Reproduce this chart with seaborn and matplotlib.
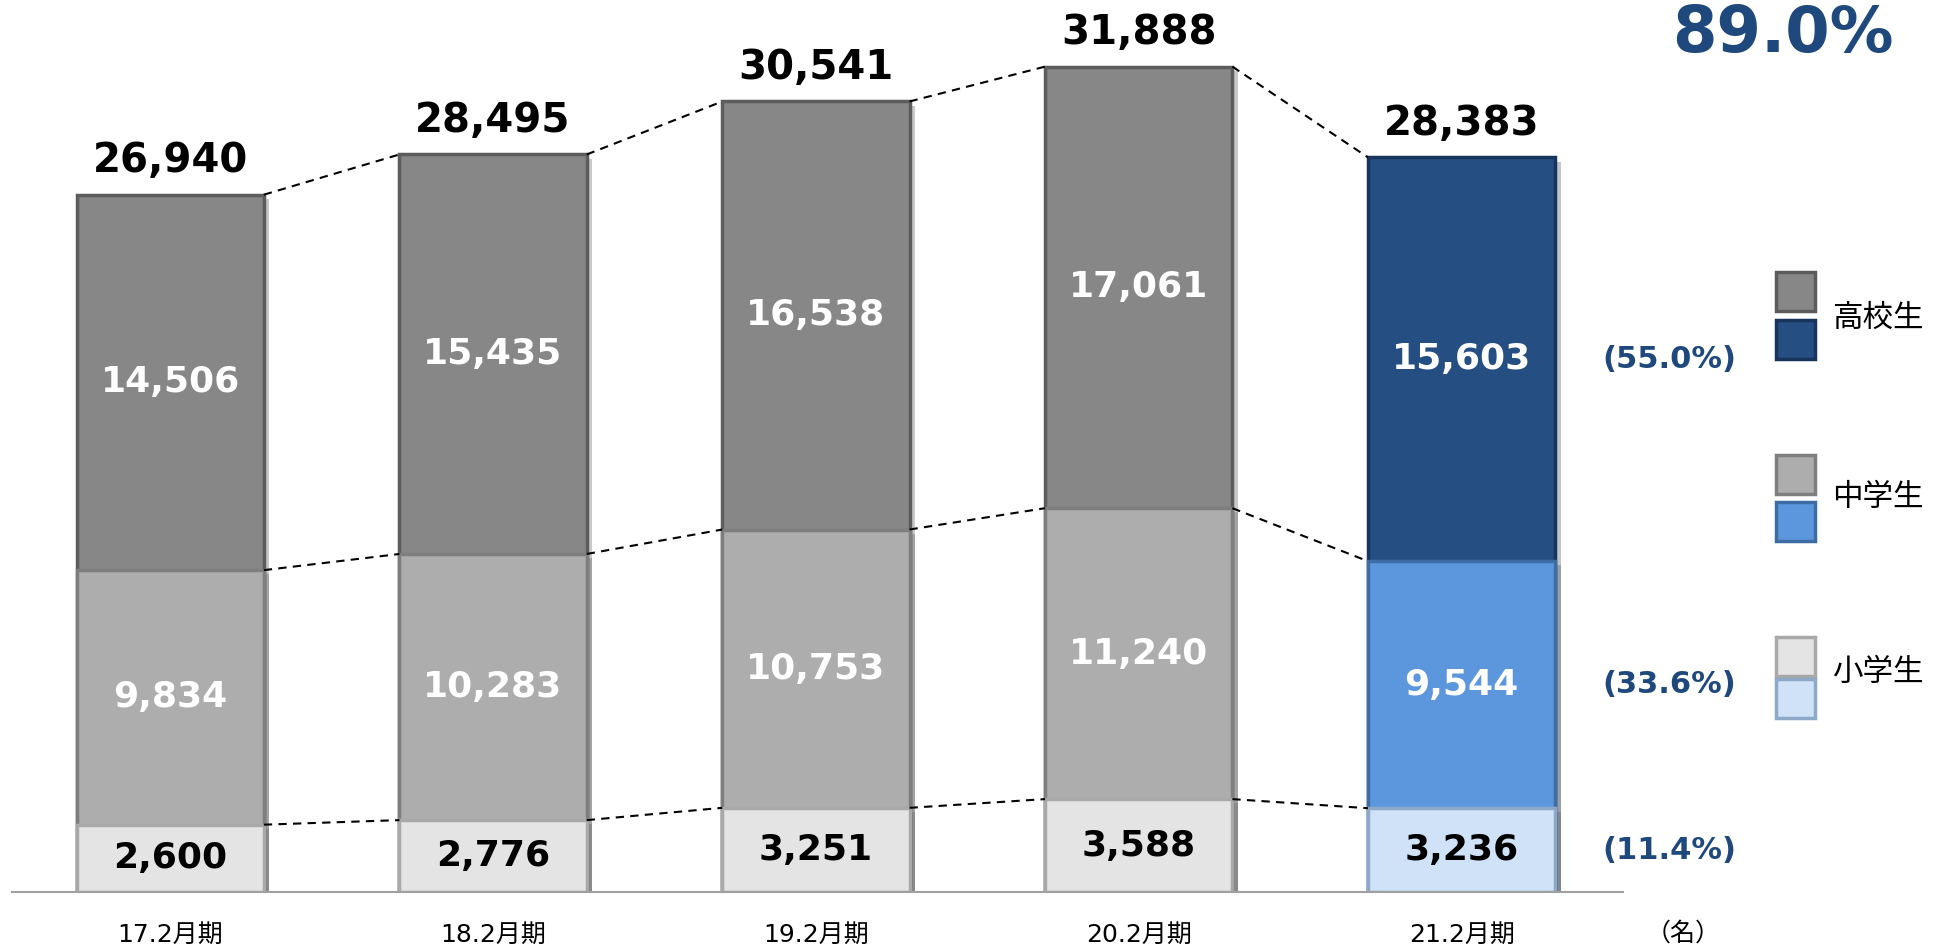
import pandas as pd
import seaborn as sns
import matplotlib.pyplot as plt
import matplotlib.patheffects as pe
from matplotlib.patches import Rectangle

# Data (students, 名)
periods = ["17.2月期", "18.2月期", "19.2月期", "20.2月期", "21.2月期"]
elementary = [2600, 2776, 3251, 3588, 3236]
junior_high = [9834, 10283, 10753, 11240, 9544]
high_school = [14506, 15435, 16538, 17061, 15603]
totals = [26940, 28495, 30541, 31888, 28383]
share_labels = ["(55.0%)", "(33.6%)", "(11.4%)"]   # high / junior / elementary, latest year
yoy_label = "89.0%"
legend_names = ["高校生", "中学生", "小学生"]

sns.set_theme(style="white")
plt.rcParams['font.family'] = ['DejaVu Sans', 'Noto Sans CJK JP']
plt.rcParams['text.color'] = 'black'
plt.rcParams['xtick.color'] = 'black'

# colours: grey for past years, blue for the latest year
grey = {"hs": "#878787", "ms": "#ADADAD", "es": "#E4E4E4"}
blue = {"hs": "#254F83", "ms": "#5C97DE", "es": "#CFE2F8"}
grey_edge = {"hs": "#5C5C5C", "ms": "#7E7E7E", "es": "#A9A9A9"}
blue_edge = {"hs": "#17345A", "ms": "#3E6DA6", "es": "#8EA8C7"}
navy_text = "#1F497D"

df = pd.DataFrame({"period": periods, "es": elementary, "ms": junior_high, "hs": high_school})
df["top_hs"] = df["es"] + df["ms"] + df["hs"]
df["top_ms"] = df["es"] + df["ms"]
df["top_es"] = df["es"]

fig = plt.figure(figsize=(19.5, 9.48), dpi=100)
ax = fig.add_axes([12 / 1950, 0.0591, 1611 / 1950, 880 / 948])

bar_w = 0.58
for key in ["hs", "ms", "es"]:
    cols = [grey[key]] * (len(periods) - 1) + [blue[key]]
    edges = [grey_edge[key]] * (len(periods) - 1) + [blue_edge[key]]
    n0 = len(ax.patches)
    sns.barplot(data=df, x="period", y="top_" + key, hue="period", palette=cols,
                width=bar_w, legend=False, ax=ax, saturation=1)
    for p, ec in zip(ax.patches[n0:], edges):
        p.set_edgecolor(ec)
        p.set_linewidth(2.5)
        p.set_path_effects([pe.SimplePatchShadow(offset=(4, -3), alpha=0.25), pe.Normal()])

# dashed connectors between segment tops
for key in ["top_hs", "top_ms", "top_es"]:
    vals = df[key].tolist()
    for i in range(len(vals) - 1):
        ax.plot([i + bar_w / 2, i + 1 - bar_w / 2], [vals[i], vals[i + 1]],
                color="black", linestyle=(0, (4, 3)), linewidth=1.5, zorder=1)

# value labels
for i in range(len(periods)):
    es, ms, hs = elementary[i], junior_high[i], high_school[i]
    ax.text(i, es / 2, f"{es:,}", ha="center", va="center", fontsize=26,
            fontweight="bold", color="black")
    ax.text(i, es + ms / 2, f"{ms:,}", ha="center", va="center", fontsize=26,
            fontweight="bold", color="white")
    ax.text(i, es + ms + hs / 2, f"{hs:,}", ha="center", va="center", fontsize=26,
            fontweight="bold", color="white")
    ax.annotate(f"{totals[i]:,}", (i, totals[i]), xytext=(0, 24), textcoords="offset points",
                ha="center", va="center", fontsize=29, fontweight="bold", color="black")

# share of latest year
last = len(periods) - 1
mids = [elementary[last] + junior_high[last] + high_school[last] / 2,
        elementary[last] + junior_high[last] / 2,
        elementary[last] / 2]
for lab, y in zip(share_labels, mids):
    ax.text(4.643, y, lab, ha="center", va="center", fontsize=22,
            fontweight="bold", color=navy_text)

fig.text(1783 / 1950, 1 - 52 / 948, yoy_label, ha="center", va="baseline",
         fontsize=46, fontweight="bold", color=navy_text)

# legend: grey + blue swatch pair per level
legend_pos = [(272, 320, 318), (455, 502, 498), (637, 679, 672)]
for name, key, (y1, y2, ty) in zip(legend_names, ["hs", "ms", "es"], legend_pos):
    for y, fc, ec in [(y1, grey[key], grey_edge[key]), (y2, blue[key], blue_edge[key])]:
        fig.add_artist(Rectangle((1776 / 1950, 1 - (y + 39) / 948), 39 / 1950, 39 / 948,
                                 transform=fig.transFigure, facecolor=fc, edgecolor=ec,
                                 linewidth=2.5))
    fig.text(1832 / 1950, 1 - ty / 948, name, ha="left", va="center", fontsize=22, color="black")

fig.text(1683 / 1950, 1 - 934 / 948, "（名）", ha="center", va="center", fontsize=18)

ax.set_xlim(-0.49, 4.5)
ax.set_ylim(0, 34000)
ax.set_xlabel("")
ax.set_ylabel("")
ax.set_yticks([])
ax.tick_params(axis="x", length=0, pad=22, labelsize=18, labelcolor="black")
for s in ["top", "left", "right"]:
    ax.spines[s].set_visible(False)
ax.spines["bottom"].set_color("#A0A0A0")
ax.spines["bottom"].set_linewidth(1.5)
ax.set_facecolor("white")

fig.savefig("out.png", dpi=100, facecolor="white")
